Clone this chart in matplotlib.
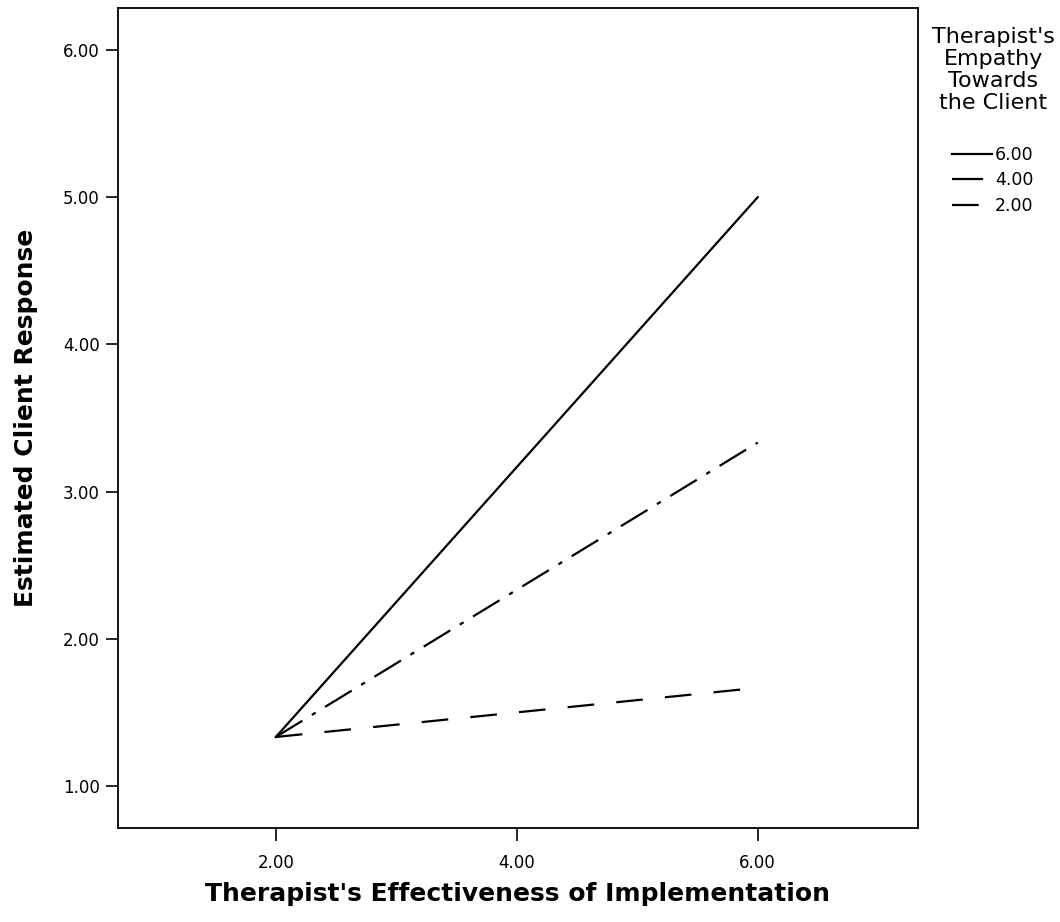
import matplotlib
matplotlib.use("Agg")
import matplotlib.pyplot as plt

plt.rcParams['font.family'] = ['DejaVu Sans']

# data
effectiveness = [2.0, 6.0]
empathy_levels = ['6.00', '4.00', '2.00']
response_6 = [1.333, 5.0]
response_4 = [1.333, 3.333]
response_2 = [1.333, 1.667]

xticks = [2.0, 4.0, 6.0]
yticks = [1.0, 2.0, 3.0, 4.0, 5.0, 6.0]

fig = plt.figure(figsize=(10.6, 9.22), dpi=100)
ax = fig.add_axes([0.1113, 0.102, 0.7547, 0.8893])

ax.plot(effectiveness, response_6, color='black', linewidth=1.6, linestyle='-', label=empathy_levels[0])
ax.plot(effectiveness, response_4, color='black', linewidth=1.6, linestyle=(0, (14, 5, 2, 5)), label=empathy_levels[1])
ax.plot(effectiveness, response_2, color='black', linewidth=1.6, linestyle=(0, (12, 10)), label=empathy_levels[2])

ax.set_xlim(0.69, 7.33)
ax.set_ylim(0.715, 6.285)
ax.set_xticks(xticks)
ax.set_xticklabels([f'{v:.2f}' for v in xticks])
ax.set_yticks(yticks)
ax.set_yticklabels([f'{v:.2f}' for v in yticks])
ax.tick_params(direction='out', length=9, width=1.2, labelsize=12, pad=4)
ax.tick_params(axis='x', pad=10)
for s in ax.spines.values():
    s.set_linewidth(1.3)

ax.set_xlabel("Therapist's Effectiveness of Implementation", fontsize=18,
              fontweight='bold', labelpad=7)
ax.set_ylabel("Estimated Client Response", fontsize=18,
              fontweight='bold', labelpad=18)

# legend title drawn separately so the gap under it matches
fig.text(0.937, 0.971, "Therapist's\nEmpathy\nTowards\nthe Client", ha='center', va='top',
         fontsize=16, multialignment='center', linespacing=1.14)
leg = ax.legend(loc='upper left', bbox_to_anchor=(1.016, 0.857), frameon=False, fontsize=12.5,
                handlelength=2.3, handletextpad=0.2, labelspacing=0.42, borderaxespad=0.8)

fig.savefig('out.png', dpi=100)
